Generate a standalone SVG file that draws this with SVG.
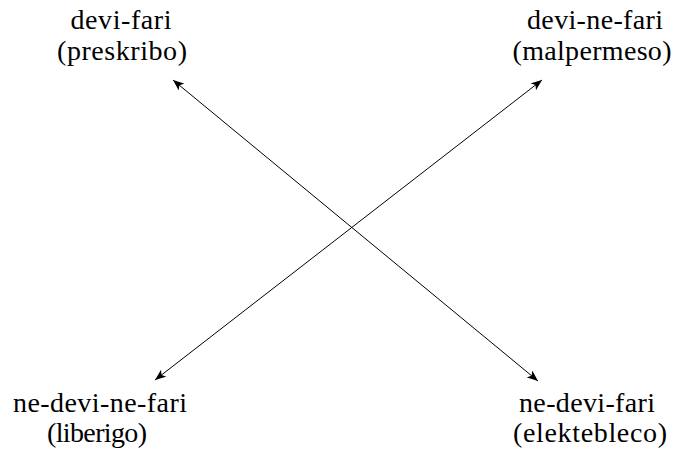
<svg xmlns="http://www.w3.org/2000/svg" width="676" height="452" viewBox="0 0 676 452">
<style>
text{font-family:"Liberation Serif","DejaVu Serif",serif;font-size:28px;fill:#000;text-anchor:middle}
.c{stroke:#000;stroke-width:1;fill:none}
</style>
<defs>
<marker id="ah" viewBox="0 0 10 8" refX="10" refY="4" markerWidth="11" markerHeight="9" markerUnits="userSpaceOnUse" orient="auto-start-reverse">
<path d="M0,0 L10,4 L0,8 L2.5,4 Z" fill="#000"/>
</marker>
</defs>
<g id="n1"><text x="121" y="29" textLength="101" lengthAdjust="spacing">devi-fari</text><text x="122" y="60" textLength="130" lengthAdjust="spacing">(preskribo)</text></g>
<g id="n2"><text x="595" y="29" textLength="136" lengthAdjust="spacing">devi-ne-fari</text><text x="592" y="60" textLength="159" lengthAdjust="spacing">(malpermeso)</text></g>
<g id="n3"><text x="100" y="412" textLength="174" lengthAdjust="spacing">ne-devi-ne-fari</text><text x="97" y="442" textLength="100" lengthAdjust="spacing">(liberigo)</text></g>
<g id="n4"><text x="587" y="412" textLength="136" lengthAdjust="spacing">ne-devi-fari</text><text x="590" y="442" textLength="154" lengthAdjust="spacing">(elektebleco)</text></g>
<g id="connectors">
<line class="c" x1="173" y1="80" x2="538" y2="381" marker-start="url(#ah)" marker-end="url(#ah)"/>
<line class="c" x1="542" y1="80" x2="155" y2="380" marker-start="url(#ah)" marker-end="url(#ah)"/>
</g>
</svg>
